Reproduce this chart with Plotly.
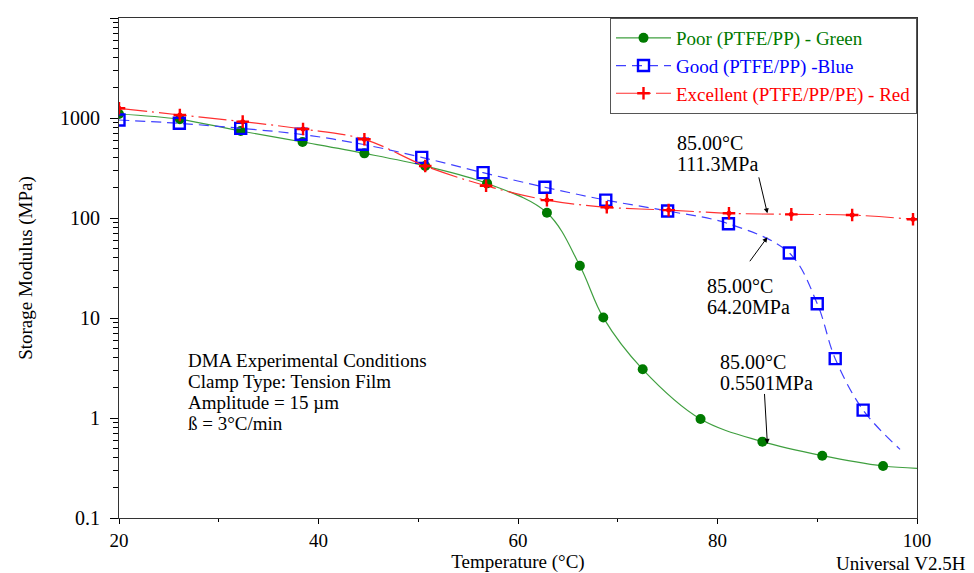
import math
import plotly.graph_objects as go

# ---- data ----
poor_T = [20.0, 26.1, 32.2, 38.4, 44.6, 50.7, 56.9, 62.9, 66.2, 68.55, 72.5, 78.3, 84.5, 90.5, 96.6]
poor_E = [1096, 970, 741, 575, 443, 331, 222, 113, 33.3, 10.1, 3.07, 0.977, 0.58, 0.42, 0.331]
poor_end_T = [100.0]
poor_end_E = [0.314]

good_T = [20.0, 26.05, 32.2, 38.25, 44.4, 50.35, 56.5, 62.7, 68.8, 75.0, 81.1, 87.2, 90.0, 91.8, 94.6]
good_E = [955, 885, 788, 687, 546, 404, 284, 203, 151, 117.5, 87.7, 44.7, 13.9, 3.92, 1.2]
good_end_T = [98.3]
good_end_E = [0.486]

exc_T = [20.0, 26.1, 32.4, 38.45, 44.6, 50.7, 56.8, 62.9, 68.9, 75.1, 81.15, 87.4, 93.5, 99.6]
exc_E = [1250, 1072, 919, 776, 612, 331, 210, 151, 128, 120, 111.4, 108.8, 107, 97]
exc_end_T = [100.0]
exc_end_E = [96]

series_names = ["Poor (PTFE/PP) - Green", "Good (PTFE/PP) -Blue", "Excellent (PTFE/PP/PE) - Red"]

# annotation values at 85 °C
ann_T = [85.0, 85.0, 85.0]
ann_E = [111.3, 64.20, 0.5501]
ann_text = [["85.00°C", "111.3MPa"], ["85.00°C", "64.20MPa"], ["85.00°C", "0.5501MPa"]]

cond_lines = ["DMA Experimental Conditions", "Clamp Type: Tension Film",
              "Amplitude = 15 µm", "ß = 3°C/min"]

x_ticks = [20, 40, 60, 80, 100]
y_ticks = [0.1, 1, 10, 100, 1000, 10000]
y_ticklabels = ["0.1", "1", "10", "100", "1000", "10000"]

FONT = "Liberation Serif, Times New Roman, serif"
OFF = 8                      # page body margin in the browser
FIG_W, FIG_H = 974 - OFF, 573 - OFF
L, T0, W, H = 119, 18, 798, 500  # plot area in window pixels


def px_to_paper(px, py):
    return (px - L) / W, 1 - (py - T0) / H


styles = [
    dict(mc="#007a00", lc="#3f9f3f", sym="circle", size=10, dash="solid", lw=1.2, open=False),
    dict(mc="#0000ff", lc="#4040ff", sym="square-open", size=11, dash="10px,6px", lw=1.2, open=True),
    dict(mc="#ff0000", lc="#ff3030", sym="cross-thin-open", size=9, dash="28px,5px,2px,5px", lw=1.2, open=True),
]
data = [
    (poor_T, poor_E, poor_end_T, poor_end_E),
    (good_T, good_E, good_end_T, good_end_E),
    (exc_T, exc_E, exc_end_T, exc_end_E),
]

fig = go.Figure()
for i, (st, (T, E, Te, Ee)) in enumerate(zip(styles, data)):
    marker = dict(symbol=st["sym"], size=st["size"], color=st["mc"],
                  line=dict(width=2.4 if st["open"] else 0, color=st["mc"]))
    fig.add_trace(go.Scatter(x=T + Te, y=E + Ee, mode="lines", line_shape="spline",
                             line=dict(color=st["lc"], width=st["lw"], dash=st["dash"]),
                             showlegend=False, hoverinfo="skip", legendgroup=str(i)))
    fig.add_trace(go.Scatter(x=T, y=E, mode="markers", marker=marker,
                             showlegend=False, legendgroup=str(i)))
    fig.add_trace(go.Scatter(x=[None], y=[None], mode="lines+markers", marker=marker,
                             line=dict(color=st["lc"], width=st["lw"], dash=st["dash"]),
                             name=f'<span style="color:{st["mc"]}">{series_names[i]}</span>',
                             legendgroup=str(i)))

fig.add_trace(go.Scatter(x=exc_T, y=exc_E, mode="markers",
                         marker=dict(symbol="circle", size=5, color="#ff0000"),
                         showlegend=False, hoverinfo="skip"))

annotations = []
# arrow tail offsets in pixels relative to the arrow tip
arrow_offsets = [(-9, -38), (-19, 26), (-3, -52)]
for Tv, Ev, (ax, ay) in zip(ann_T, ann_E, arrow_offsets):
    annotations.append(dict(x=Tv, y=math.log10(Ev), xref="x", yref="y", text=" ",
                            showarrow=True, ax=ax, ay=ay,
                            font=dict(size=1),
                            arrowhead=2, arrowsize=1, arrowwidth=1, standoff=0,
                            arrowcolor="#000000"))
text_pos = [(675, 143), (705, 286), (718, 362)]
for (px, py), lines in zip(text_pos, ann_text):
    for k, line in enumerate(lines):
        xp, yp = px_to_paper(px, py + 21 * k)
        annotations.append(dict(x=xp, y=yp, xref="paper", yref="paper", text=line,
                                showarrow=False, xanchor="left", yanchor="middle",
                                font=dict(family=FONT, size=20, color="#000000")))
for k, line in enumerate(cond_lines):
    xp, yp = px_to_paper(186, 360 + 21 * k)
    annotations.append(dict(x=xp, y=yp, xref="paper", yref="paper", text=line,
                            showarrow=False, xanchor="left", yanchor="middle",
                            font=dict(family=FONT, size=19, color="#000000")))
xp, yp = px_to_paper(968, 563)
annotations.append(dict(x=xp, y=yp, xref="paper", yref="paper", text="Universal V2.5H",
                        showarrow=False, xanchor="right", yanchor="middle",
                        font=dict(family=FONT, size=19, color="#000000")))

fig.update_layout(
    width=FIG_W, height=FIG_H,
    margin=dict(l=L - OFF, r=FIG_W - (L - OFF) - W, t=T0 - OFF,
                b=FIG_H - (T0 - OFF) - H, autoexpand=False),
    paper_bgcolor="white", plot_bgcolor="white",
    font=dict(family=FONT, size=19, color="#000000"),
    showlegend=True,
    legend=dict(x=1, y=1, xanchor="right", yanchor="top",
                bordercolor="#555555", borderwidth=1, bgcolor="white",
                font=dict(family=FONT, size=19), itemwidth=55,
                tracegroupgap=0),
    annotations=annotations,
)
fig.update_xaxes(range=[20, 100], tickvals=x_ticks, ticks="outside", ticklen=5,
                 tickwidth=1, tickcolor="#000", showline=True, linecolor="#333",
                 linewidth=1, mirror=True, showgrid=False, zeroline=False,
                 automargin=False,
                 tickfont=dict(family=FONT, size=19),
                 minor=dict(ticks="outside", ticklen=3, dtick=10, tickcolor="#000"),
                 title=dict(text="Temperature (°C)", font=dict(family=FONT, size=19), standoff=4))
fig.update_yaxes(type="log", range=[-1, 4], tickvals=y_ticks, ticktext=y_ticklabels,
                 ticks="outside", ticklen=8, tickwidth=1, tickcolor="#000",
                 showline=True, linecolor="#333", linewidth=1, mirror=True,
                 showgrid=False, zeroline=False, automargin=False,
                 ticklabelstandoff=6,
                 tickfont=dict(family=FONT, size=20),
                 minor=dict(ticks="outside", ticklen=5, dtick="D1", tickcolor="#000"),
                 title=dict(text="Storage Modulus (MPa)", font=dict(family=FONT, size=19), standoff=22))

fig.write_html("out.html")
